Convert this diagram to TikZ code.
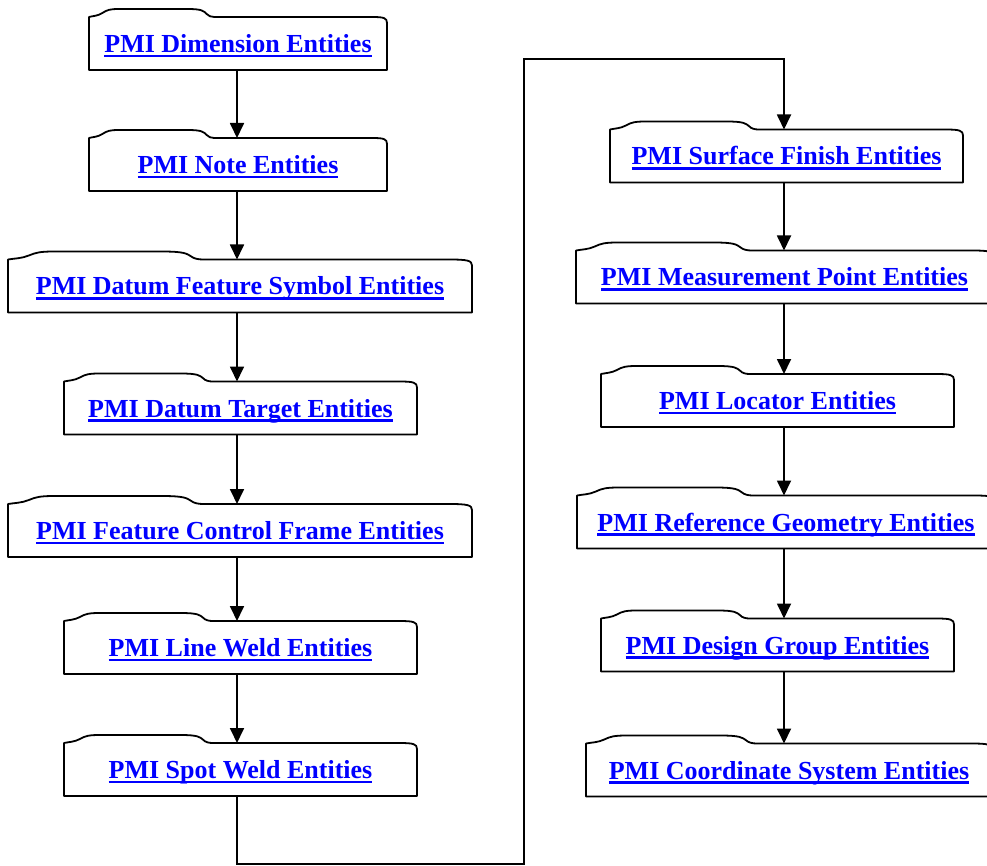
\documentclass[tikz,border=0pt]{standalone}
\usepackage{fontspec}
\setmainfont{Liberation Serif}
\usetikzlibrary{arrows.meta,calc}
\definecolor{lk}{RGB}{0,0,255}
\newsavebox\ulbox
\newcommand\ulk[1]{\sbox\ulbox{#1}\rlap{\rule[-4.6pt]{\wd\ulbox}{2.4pt}}\usebox\ulbox}
\tikzset{
  pmi/.style={draw=none, text=lk, outer sep=0pt, inner sep=0pt,
    font=\bfseries\fontsize{26}{30}\selectfont,
    text height=18pt, text depth=0pt, minimum height=53pt},
  boxline/.style={draw=black, line width=1.8pt, line join=round},
  arr/.style={draw=black, line width=1.8pt, -{Triangle[length=15pt,width=14pt]}}
}
\newcommand\folder[1]{%
\draw[boxline] let \p1=(#1.south west), \p2=(#1.north east), \n1={\x2-\x1} in
 (\x1,\y1) -- (\x1,\y2)
 .. controls (\x1+0.012*\n1,\y2+1pt) and (\x1+0.03*\n1,\y2+1pt) .. (\x1+0.045*\n1,\y2+4pt)
 .. controls (\x1+0.06*\n1,\y2+7pt) and (\x1+0.07*\n1,\y2+8pt) .. (\x1+0.1*\n1,\y2+8pt)
 -- (\x1+0.33*\n1,\y2+8pt)
 .. controls (\x1+0.38*\n1,\y2+8pt) and (\x1+0.385*\n1,\y2+6pt) .. (\x1+0.395*\n1,\y2+3pt)
 .. controls (\x1+0.4*\n1,\y2+1pt) and (\x1+0.41*\n1,\y2) .. (\x1+0.42*\n1,\y2)
 -- (\x2-0.05*\n1,\y2)
 .. controls (\x2-0.01*\n1,\y2) and (\x2,\y2-1pt) .. (\x2,\y2-6pt)
 -- (\x2,\y1) -- cycle;}
\begin{document}
\begin{tikzpicture}
\useasboundingbox[fill=white] (0pt,0pt) rectangle (987pt,-866pt);
\coordinate (colL) at (237pt,0pt);
\coordinate (colR) at (784pt,0pt);
% left column
\node[pmi, minimum width=298pt] (n1) at (238pt,-43.5pt) {\ulk{PMI Dimension Entities}};
\node[pmi, minimum width=298pt] (n2) at (238pt,-164.5pt) {\ulk{PMI Note Entities}};
\node[pmi, minimum width=464pt] (n3) at (240pt,-286pt) {\ulk{PMI Datum Feature Symbol Entities}};
\node[pmi, minimum width=353pt] (n4) at (240.5pt,-408pt) {\ulk{PMI Datum Target Entities}};
\node[pmi, minimum width=464pt] (n5) at (240pt,-530.5pt) {\ulk{PMI Feature Control Frame Entities}};
\node[pmi, minimum width=353pt] (n6) at (240.5pt,-647.5pt) {\ulk{PMI Line Weld Entities}};
\node[pmi, minimum width=353pt] (n7) at (240.5pt,-769.5pt) {\ulk{PMI Spot Weld Entities}};
% right column
\node[pmi, minimum width=353pt] (n8) at (786.5pt,-156pt) {\ulk{PMI Surface Finish Entities}};
\node[pmi, minimum width=417pt] (n9) at (784.5pt,-277pt) {\ulk{PMI Measurement Point Entities}};
\node[pmi, minimum width=353pt] (n10) at (777.5pt,-400.5pt) {\ulk{PMI Locator Entities}};
\node[pmi, minimum width=418pt] (n11) at (786pt,-522pt) {\ulk{PMI Reference Geometry Entities}};
\node[pmi, minimum width=353pt] (n12) at (777.5pt,-645pt) {\ulk{PMI Design Group Entities}};
\node[pmi, minimum width=406pt] (n13) at (789pt,-770pt) {\ulk{PMI Coordinate System Entities}};
\foreach \bx in {n1,n2,n3,n4,n5,n6,n7,n8,n9,n10,n11,n12,n13} {\folder{\bx}}
% arrows
\draw[arr] (n1.south -| colL) -- (n2.north -| colL);
\draw[arr] (n2.south -| colL) -- (n3.north -| colL);
\draw[arr] (n3.south -| colL) -- (n4.north -| colL);
\draw[arr] (n4.south -| colL) -- (n5.north -| colL);
\draw[arr] (n5.south -| colL) -- (n6.north -| colL);
\draw[arr] (n6.south -| colL) -- (n7.north -| colL);
\draw[arr] (n8.south -| colR) -- (n9.north -| colR);
\draw[arr] (n9.south -| colR) -- (n10.north -| colR);
\draw[arr] (n10.south -| colR) -- (n11.north -| colR);
\draw[arr] (n11.south -| colR) -- (n12.north -| colR);
\draw[arr] (n12.south -| colR) -- (n13.north -| colR);
\coordinate (b2) at (524pt,-864pt);
\coordinate (b4) at (784pt,-59pt);
\draw[arr, line join=miter] (n7.south -| colL) |- (b2) |- (b4) -- (n8.north -| colR);
\end{tikzpicture}
\end{document}
